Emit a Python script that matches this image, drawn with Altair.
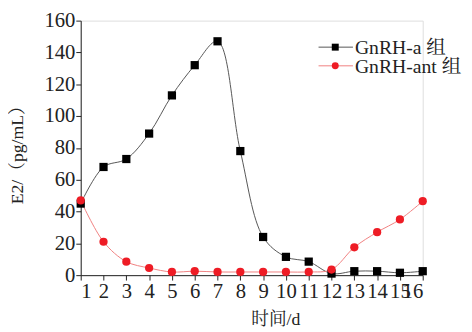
import altair as alt
import pandas as pd

days = list(range(1, 17))
gnrh_a = [45, 68, 73, 89, 113, 132, 147, 78, 24, 11.5, 8.5, 1, 2.5, 2.5, 1.5, 2.5]
gnrh_ant = [47, 21, 8.5, 4.5, 2, 2.5, 2, 2, 2, 2, 2, 3.5, 17.5, 27, 35, 46.5]
series = ["GnRH-a 组", "GnRH-ant 组"]
colors = ["#000000", "#ee1c25"]
line_colors = ["#555555", "#f08080"]
shapes = ["square", "circle"]

rows = []
for d, a, b in zip(days, gnrh_a, gnrh_ant):
    rows.append({"day": d, "val": a, "grp": series[0], "pc": colors[0], "lc": line_colors[0], "sh": shapes[0]})
    rows.append({"day": d, "val": b, "grp": series[1], "pc": colors[1], "lc": line_colors[1], "sh": shapes[1]})
df = pd.DataFrame(rows)

FONT = "Liberation Serif, Times New Roman, Noto Serif CJK SC, Noto Sans CJK SC"

x = alt.X("day:Q", scale=alt.Scale(domain=[1, 16], nice=False, zero=False),
          axis=alt.Axis(values=days, title="时间/d", labelOverlap=False, grid=False,
                        tickSize=5, labelFontSize=21, titleFontSize=18, labelPadding=1,
                        titleX=198, titleY=45, titleAnchor="middle", titleBaseline="middle",
                        domainColor="#222", tickColor="#222",
                        labelColor="#222", titleColor="#222", labelFont=FONT, titleFont=FONT,
                        titleFontWeight="normal"))
y = alt.Y("val:Q", scale=alt.Scale(domain=[0, 160], nice=False),
          axis=alt.Axis(values=list(range(0, 161, 20)), title="E2/（pg/mL）", grid=False,
                        tickSize=5, labelFontSize=21, titleFontSize=18, labelPadding=1,
                        titleX=-64, titleY=132, titleAnchor="middle", titleBaseline="middle",
                        domainColor="#222", tickColor="#222",
                        labelColor="#222", titleColor="#222", labelFont=FONT, titleFont=FONT,
                        titleFontWeight="normal"))

lines = alt.Chart(df).mark_line(interpolate="catmull-rom", strokeWidth=1).encode(
    x=x, y=y,
    color=alt.Color("lc:N", scale=None),
    detail="grp:N",
)
points = alt.Chart(df).mark_point(filled=True, size=70, opacity=1).encode(
    x=x, y=y,
    color=alt.Color("pc:N", scale=None),
    shape=alt.Shape("sh:N", scale=None),
)

# manual legend
leg_y = [27, 46]
legend_layers = []
for s, c, lc, sh, ly in zip(series, colors, line_colors, shapes, leg_y):
    ldf = pd.DataFrame([{"grp": s}])
    legend_layers.append(alt.Chart(ldf).mark_rule(color=lc, strokeWidth=1).encode(
        x=alt.value(242), x2=alt.value(277), y=alt.value(ly)))
    legend_layers.append(alt.Chart(ldf).mark_point(filled=True, size=50, opacity=1,
                                                   color=c, shape=sh).encode(
        x=alt.value(259), y=alt.value(ly)))
    legend_layers.append(alt.Chart(ldf).mark_text(align="left", baseline="middle", font=FONT,
                                                  fontSize=20, color="#222").encode(
        x=alt.value(279), y=alt.value(ly + 1), text="grp:N"))

chart = alt.layer(lines, points, *legend_layers).properties(
    width=348, height=259,
    autosize=alt.AutoSizeParams(type="none"),
    padding={"left": 74, "top": 10, "right": 42, "bottom": 55},
).configure_view(stroke=None).configure(background="white")

chart.save("out.html", embed_options={"renderer": "svg", "actions": False})
